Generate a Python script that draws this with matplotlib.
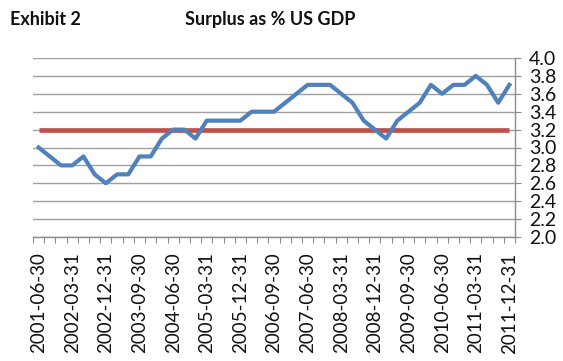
import matplotlib
matplotlib.use("Agg")
import matplotlib.pyplot as plt
import numpy as np

dates = ["2001-06-30", "2001-09-30", "2001-12-31", "2002-03-31", "2002-06-30", "2002-09-30",
         "2002-12-31", "2003-03-31", "2003-06-30", "2003-09-30", "2003-12-31", "2004-03-31",
         "2004-06-30", "2004-09-30", "2004-12-31", "2005-03-31", "2005-06-30", "2005-09-30",
         "2005-12-31", "2006-03-31", "2006-06-30", "2006-09-30", "2006-12-31", "2007-03-31",
         "2007-06-30", "2007-09-30", "2007-12-31", "2008-03-31", "2008-06-30", "2008-09-30",
         "2008-12-31", "2009-03-31", "2009-06-30", "2009-09-30", "2009-12-31", "2010-03-31",
         "2010-06-30", "2010-09-30", "2010-12-31", "2011-03-31", "2011-06-30", "2011-09-30",
         "2011-12-31"]
surplus = [3.0, 2.9, 2.8, 2.8, 2.9, 2.7, 2.6, 2.7, 2.7, 2.9, 2.9, 3.1, 3.2, 3.2, 3.1,
           3.3, 3.3, 3.3, 3.3, 3.4, 3.4, 3.4, 3.5, 3.6, 3.7, 3.7, 3.7, 3.6, 3.5, 3.3,
           3.2, 3.1, 3.3, 3.4, 3.5, 3.7, 3.6, 3.7, 3.7, 3.8, 3.7, 3.5, 3.7]
average = [3.2] * len(dates)
yticks = [2.0, 2.2, 2.4, 2.6, 2.8, 3.0, 3.2, 3.4, 3.6, 3.8, 4.0]

plt.rcParams['font.family'] = ['Lato', 'DejaVu Sans']

W, H = 563, 361
fig = plt.figure(figsize=(W / 100, H / 100), dpi=100)
ax = fig.add_axes([33 / W, 1 - 237 / H, (515 - 33) / W, (237 - 58) / H])

x = np.arange(len(dates))
ax.plot(x, average, color="#C0504D", lw=3.4, solid_capstyle="butt", zorder=3)
ax.plot(x, surplus, color="#4F81BD", lw=3.0, solid_joinstyle="round", zorder=4)

ax.set_xlim(-0.5, len(dates) - 0.5)
ax.set_ylim(2.0, 4.0)

ax.yaxis.tick_right()
ax.set_yticks(yticks)
ax.set_yticklabels([f"{v:.1f}" for v in yticks])
ax.tick_params(axis="y", which="both", direction="out", length=4, color="#8c8c8c",
               labelsize=14, pad=6, labelcolor="#111111")
ax.grid(axis="y", color="#a0a0a0", lw=1.0)
ax.set_axisbelow(True)

# category boundaries as tick marks, labels at category centres
ax.set_xticks(np.arange(-0.5, len(dates), 1.0))
ax.set_xticklabels([])
ax.tick_params(axis="x", which="major", direction="out", length=4, color="#8c8c8c")
lab_idx = list(range(0, len(dates), 3))
ax.set_xticks(lab_idx, minor=True)
ax.set_xticklabels([dates[i] for i in lab_idx], minor=True, rotation=90)
ax.tick_params(axis="x", which="minor", length=0, labelsize=13.5, pad=11, labelcolor="#111111")

for s in ["left", "top"]:
    ax.spines[s].set_visible(False)
for s in ["right", "bottom"]:
    ax.spines[s].set_color("#8c8c8c")
    ax.spines[s].set_linewidth(1.0)

fig.text(10 / W, 1 - 25 / H, "Exhibit 2", fontsize=13, fontweight="bold", color="#111111")
fig.text(185 / W, 1 - 25 / H, "Surplus as % US GDP", fontsize=13, fontweight="bold", color="#111111")

fig.savefig("out.png", dpi=100)
